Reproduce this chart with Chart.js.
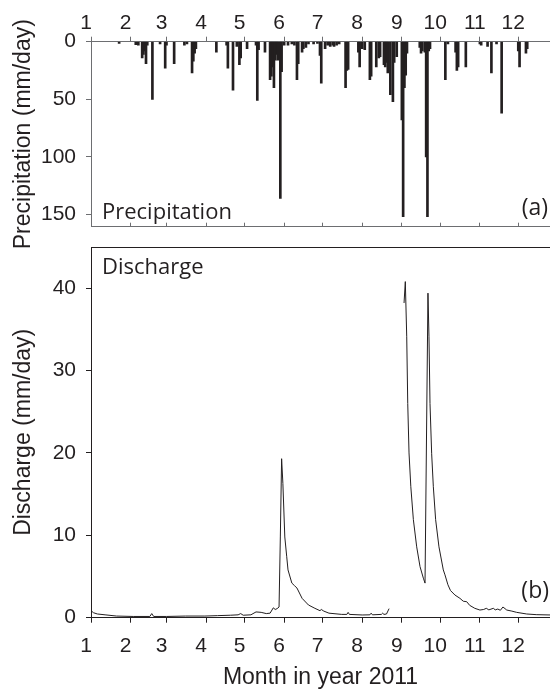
<!DOCTYPE html>
<html><head><meta charset="utf-8">
<script src="https://cdn.jsdelivr.net/npm/chart.js@4.4.1/dist/chart.umd.min.js"></script>
<style>
html,body{margin:0;padding:0;background:#fff;overflow:hidden;width:550px;height:691px;}
#wrap{position:relative;width:550px;height:691px;}
canvas{position:absolute;left:0;}
.lbl{position:absolute;font-family:"Open Sans",sans-serif;color:#231f20;white-space:nowrap;line-height:1;}
</style></head><body>
<div id="wrap">
<canvas id="bot" width="550" height="451" style="top:240px"></canvas>
<canvas id="top" width="550" height="262" style="top:0"></canvas>
<div class="lbl" style="left:102px;top:199px;font-size:22px">Precipitation</div>
<div class="lbl" style="right:2px;top:195px;font-size:23px">(a)</div>
<div class="lbl" style="left:102px;top:254px;font-size:22px">Discharge</div>
<div class="lbl" style="right:1px;top:578px;font-size:23px">(b)</div>
</div>
<script>
// month start positions (day of year 2011) and their labels
const monthStarts = [1,32,60,91,121,152,182,213,244,274,305,335];
const monthLabels = ['1','2','3','4','5','6','7','8','9','10','11','12'];

// daily precipitation (mm/day), day of year
const precipDay = [23,36,38,41,42,43,44,45,49,55,59,60,66,74,76,80,81,82,83,99,107,108,112,115,117,118,123,130,131,132,137,141,142,143,144,145,146,147,149,150,152,155,158,160,162,163,166,167,169,171,175,178,180,181,184,186,188,190,191,193,195,200,201,202,210,211,213,215,219,220,224,226,227,230,231,232,233,235,237,238,240,244,245,246,247,248,258,259,260,262,263,264,265,266,278,280,286,287,288,294,305,306,311,314,318,322,335,336,341,342];
const precipMM = [1.5,2.5,3,14,11,8,19,3,50,2,23,3,19,3,2,27,17,10,6,9,3,23,42,4,20,14,6,3,51,7,9,33,30,22,40,16,11,16,136,26,3,3,2,3,33,19,9,6,5,2,2,1.5,12,36,6,3,4,3,4,3,2,40,25,24,9,22,6,7,33,30,22,14,13,20,22,18,27,46,52,18,13,68,152,40,29,10,5,10,8,9,100,152,8,6,33,2,9,25,22,22,2,3,4,27,2,62,8,22,10,6];

// discharge (mm/day), day of year; null = missing data
const dischargeDay = [1,3,6,12,21,34,47,48.5,50,60,75,90,100,110,116,118,120,126,130,134,138,141,143.5,145,146.5,148,149,150,151,152.5,154,155,158,160,162,166,171,176,180,181,183,187,197,201,202,203,213,219,220,221,228,229,230,232,234,240,245.7,246.7,247.8,248.6,249.6,251,253,255.6,258.2,260.8,262.1,264.4,265.2,266,267.3,268.6,270.4,273,276.4,277.7,280,282,285.5,289.4,292,294.7,297,301,305,308,310,312,315.5,317,319,321,323,326,330,333.7,341.6,349,360];
const dischargeMM = [0.85,0.6,0.45,0.35,0.2,0.15,0.15,0.5,0.15,0.15,0.2,0.2,0.25,0.3,0.35,0.5,0.3,0.35,0.7,0.65,0.5,0.55,1.2,1.0,1.1,1.3,9.8,19.3,16.3,9.8,7.4,5.8,4.2,3.9,3.6,2.35,1.54,1.14,0.85,1.0,0.8,0.55,0.4,0.4,0.65,0.4,0.33,0.35,0.55,0.35,0.4,0.55,0.4,0.45,1.1,null,38.2,40.8,34.1,26.0,20.0,15.9,11.9,8.6,6.2,4.8,4.2,39.4,34.1,26.0,19.9,15.9,11.9,8.6,5.8,5.2,4.0,3.3,2.75,2.35,2.0,1.94,1.5,1.14,0.93,1.0,1.14,0.95,1.14,0.95,1.05,0.9,1.3,0.93,0.8,0.65,0.45,0.37,0.33];

const precipTicks = [0,50,100,150];
const dischargeTicks = [0,10,20,30,40];

const X_MIN = 1, X_MAX = 359.8;
const TXT = '#231f20';
const AX1 = '#6d6e71';
const AX2 = '#231f20';
const FONT = '"Liberation Sans", Arial, sans-serif';

function monthTicks(s){ s.ticks = monthStarts.map(v => ({value: v})); }
function monthLabel(v){ const i = monthStarts.indexOf(v); return i >= 0 ? monthLabels[i] : ''; }
function noPad(s){ s.paddingTop = 0; s.paddingBottom = 0; s.paddingLeft = 0; s.paddingRight = 0; }

new Chart(document.getElementById('top'), {
  type: 'bar',
  data: { datasets: [{
    data: precipDay.map((d, i) => ({x: d, y: precipMM[i]})),
    backgroundColor: '#231f20', borderWidth: 0, barThickness: 2, grouped: false
  }]},
  options: {
    responsive: false, animation: false, devicePixelRatio: 1,
    layout: { padding: 0 },
    plugins: { legend: { display: false }, tooltip: { enabled: false } },
    scales: {
      x: {
        type: 'linear', position: 'top', min: X_MIN, max: X_MAX, offset: false,
        afterBuildTicks: monthTicks, afterFit: s => { s.height = 41.7; noPad(s); },
        grid: { offset: false, drawOnChartArea: false, drawTicks: true, tickLength: 5, color: AX1, lineWidth: 1 },
        border: { display: true, color: AX1, width: 1 },
        ticks: { callback: monthLabel, autoSkip: false, maxRotation: 0, padding: 1, labelOffset: -5, color: TXT, font: { family: FONT, size: 21 } }
      },
      xb: {
        type: 'linear', position: 'bottom', min: X_MIN, max: X_MAX, offset: false,
        afterBuildTicks: monthTicks, afterFit: s => { s.height = 35.3; noPad(s); },
        grid: { offset: false, drawOnChartArea: false, drawTicks: true, tickLength: -4, color: AX1, lineWidth: 1 },
        border: { display: true, color: AX1, width: 1 },
        ticks: { display: false }
      },
      y: {
        type: 'linear', reverse: true, min: 0, max: 160.6,
        afterBuildTicks: s => { s.ticks = precipTicks.map(v => ({value: v})); },
        afterFit: s => { s.width = 91; noPad(s); },
        grid: { drawOnChartArea: false, drawTicks: true, tickLength: 5, color: AX1 },
        border: { display: true, color: AX1, width: 1 },
        ticks: { padding: 10, color: TXT, font: { family: FONT, size: 21 } },
        title: { display: true, text: 'Precipitation (mm/day)', color: TXT, font: { family: FONT, size: 23 }, padding: { top: 10, bottom: 0 } }
      }
    }
  }
});

new Chart(document.getElementById('bot'), {
  type: 'line',
  data: { datasets: [{
    data: dischargeDay.map((d, i) => ({x: d, y: dischargeMM[i]})),
    borderColor: '#231f20', borderWidth: 1, pointRadius: 0, tension: 0, spanGaps: false, fill: false
  }]},
  options: {
    responsive: false, animation: false, devicePixelRatio: 1,
    layout: { padding: 0 },
    plugins: { legend: { display: false }, tooltip: { enabled: false } },
    scales: {
      x: {
        type: 'linear', position: 'bottom', min: X_MIN, max: X_MAX, offset: false,
        afterBuildTicks: monthTicks, afterFit: s => { s.height = 73.3; noPad(s); },
        grid: { drawOnChartArea: false, drawTicks: true, tickLength: 5, color: AX2 },
        border: { display: true, color: AX2, width: 1 },
        ticks: { callback: monthLabel, autoSkip: false, maxRotation: 0, padding: 11, labelOffset: -5, color: TXT, font: { family: FONT, size: 21 } },
        title: { display: true, text: 'Month in year 2011', color: TXT, font: { family: FONT, size: 23 }, padding: { top: 0, bottom: 0 } }
      },
      xt: {
        type: 'linear', position: 'top', min: X_MIN, max: X_MAX, offset: false,
        afterFit: s => { s.height = 7; noPad(s); },
        grid: { drawOnChartArea: false, drawTicks: false, color: AX2 },
        border: { display: true, color: AX2, width: 1 },
        ticks: { display: false }
      },
      y: {
        type: 'linear', min: 0, max: 45,
        afterBuildTicks: s => { s.ticks = dischargeTicks.map(v => ({value: v})); },
        afterFit: s => { s.width = 91; noPad(s); },
        grid: { drawOnChartArea: false, drawTicks: true, tickLength: 5, color: AX2 },
        border: { display: true, color: AX2, width: 1 },
        ticks: { padding: 10, color: TXT, font: { family: FONT, size: 21 } },
        title: { display: true, text: 'Discharge (mm/day)', color: TXT, font: { family: FONT, size: 23 }, padding: { top: 10, bottom: 0 } }
      }
    }
  }
});
</script>
</body></html>
